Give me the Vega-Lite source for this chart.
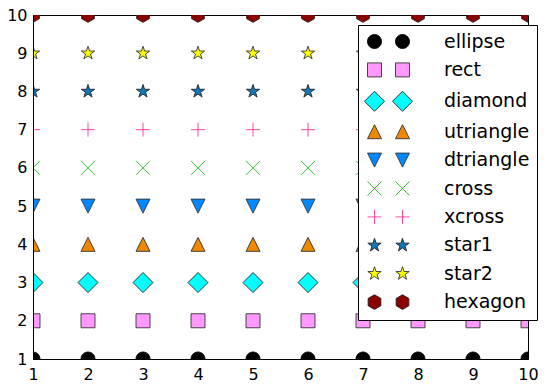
{
  "$schema": "https://vega.github.io/schema/vega-lite/v6.json",
  "width": 495,
  "height": 344,
  "autosize": "none",
  "padding": {"left": 33, "top": 15, "right": 19, "bottom": 30},
  "background": "white",
  "config": {
    "font": "DejaVu Sans",
    "view": {"stroke": "black", "strokeWidth": 1}
  },
  "data": {
    "values": [
      {"x": 1, "y": 1, "marker": "ellipse"}, {"x": 2, "y": 1, "marker": "ellipse"}, {"x": 3, "y": 1, "marker": "ellipse"}, {"x": 4, "y": 1, "marker": "ellipse"}, {"x": 5, "y": 1, "marker": "ellipse"}, {"x": 6, "y": 1, "marker": "ellipse"}, {"x": 7, "y": 1, "marker": "ellipse"}, {"x": 8, "y": 1, "marker": "ellipse"}, {"x": 9, "y": 1, "marker": "ellipse"}, {"x": 10, "y": 1, "marker": "ellipse"},
      {"x": 1, "y": 2, "marker": "rect"}, {"x": 2, "y": 2, "marker": "rect"}, {"x": 3, "y": 2, "marker": "rect"}, {"x": 4, "y": 2, "marker": "rect"}, {"x": 5, "y": 2, "marker": "rect"}, {"x": 6, "y": 2, "marker": "rect"}, {"x": 7, "y": 2, "marker": "rect"}, {"x": 8, "y": 2, "marker": "rect"}, {"x": 9, "y": 2, "marker": "rect"}, {"x": 10, "y": 2, "marker": "rect"},
      {"x": 1, "y": 3, "marker": "diamond"}, {"x": 2, "y": 3, "marker": "diamond"}, {"x": 3, "y": 3, "marker": "diamond"}, {"x": 4, "y": 3, "marker": "diamond"}, {"x": 5, "y": 3, "marker": "diamond"}, {"x": 6, "y": 3, "marker": "diamond"}, {"x": 7, "y": 3, "marker": "diamond"}, {"x": 8, "y": 3, "marker": "diamond"}, {"x": 9, "y": 3, "marker": "diamond"}, {"x": 10, "y": 3, "marker": "diamond"},
      {"x": 1, "y": 4, "marker": "utriangle"}, {"x": 2, "y": 4, "marker": "utriangle"}, {"x": 3, "y": 4, "marker": "utriangle"}, {"x": 4, "y": 4, "marker": "utriangle"}, {"x": 5, "y": 4, "marker": "utriangle"}, {"x": 6, "y": 4, "marker": "utriangle"}, {"x": 7, "y": 4, "marker": "utriangle"}, {"x": 8, "y": 4, "marker": "utriangle"}, {"x": 9, "y": 4, "marker": "utriangle"}, {"x": 10, "y": 4, "marker": "utriangle"},
      {"x": 1, "y": 5, "marker": "dtriangle"}, {"x": 2, "y": 5, "marker": "dtriangle"}, {"x": 3, "y": 5, "marker": "dtriangle"}, {"x": 4, "y": 5, "marker": "dtriangle"}, {"x": 5, "y": 5, "marker": "dtriangle"}, {"x": 6, "y": 5, "marker": "dtriangle"}, {"x": 7, "y": 5, "marker": "dtriangle"}, {"x": 8, "y": 5, "marker": "dtriangle"}, {"x": 9, "y": 5, "marker": "dtriangle"}, {"x": 10, "y": 5, "marker": "dtriangle"},
      {"x": 1, "y": 6, "marker": "cross"}, {"x": 2, "y": 6, "marker": "cross"}, {"x": 3, "y": 6, "marker": "cross"}, {"x": 4, "y": 6, "marker": "cross"}, {"x": 5, "y": 6, "marker": "cross"}, {"x": 6, "y": 6, "marker": "cross"}, {"x": 7, "y": 6, "marker": "cross"}, {"x": 8, "y": 6, "marker": "cross"}, {"x": 9, "y": 6, "marker": "cross"}, {"x": 10, "y": 6, "marker": "cross"},
      {"x": 1, "y": 7, "marker": "xcross"}, {"x": 2, "y": 7, "marker": "xcross"}, {"x": 3, "y": 7, "marker": "xcross"}, {"x": 4, "y": 7, "marker": "xcross"}, {"x": 5, "y": 7, "marker": "xcross"}, {"x": 6, "y": 7, "marker": "xcross"}, {"x": 7, "y": 7, "marker": "xcross"}, {"x": 8, "y": 7, "marker": "xcross"}, {"x": 9, "y": 7, "marker": "xcross"}, {"x": 10, "y": 7, "marker": "xcross"},
      {"x": 1, "y": 8, "marker": "star1"}, {"x": 2, "y": 8, "marker": "star1"}, {"x": 3, "y": 8, "marker": "star1"}, {"x": 4, "y": 8, "marker": "star1"}, {"x": 5, "y": 8, "marker": "star1"}, {"x": 6, "y": 8, "marker": "star1"}, {"x": 7, "y": 8, "marker": "star1"}, {"x": 8, "y": 8, "marker": "star1"}, {"x": 9, "y": 8, "marker": "star1"}, {"x": 10, "y": 8, "marker": "star1"},
      {"x": 1, "y": 9, "marker": "star2"}, {"x": 2, "y": 9, "marker": "star2"}, {"x": 3, "y": 9, "marker": "star2"}, {"x": 4, "y": 9, "marker": "star2"}, {"x": 5, "y": 9, "marker": "star2"}, {"x": 6, "y": 9, "marker": "star2"}, {"x": 7, "y": 9, "marker": "star2"}, {"x": 8, "y": 9, "marker": "star2"}, {"x": 9, "y": 9, "marker": "star2"}, {"x": 10, "y": 9, "marker": "star2"},
      {"x": 1, "y": 10, "marker": "hexagon"}, {"x": 2, "y": 10, "marker": "hexagon"}, {"x": 3, "y": 10, "marker": "hexagon"}, {"x": 4, "y": 10, "marker": "hexagon"}, {"x": 5, "y": 10, "marker": "hexagon"}, {"x": 6, "y": 10, "marker": "hexagon"}, {"x": 7, "y": 10, "marker": "hexagon"}, {"x": 8, "y": 10, "marker": "hexagon"}, {"x": 9, "y": 10, "marker": "hexagon"}, {"x": 10, "y": 10, "marker": "hexagon"}
    ]
  },
  "encoding": {
    "x": {
      "field": "x", "type": "quantitative",
      "scale": {"domain": [1, 10], "nice": false, "zero": false},
      "axis": {"values": [1, 2, 3, 4, 5, 6, 7, 8, 9, 10], "format": "d", "title": null, "grid": false, "ticks": false, "domain": true, "domainColor": "black", "domainWidth": 1, "labelFontSize": 16, "labelColor": "black", "labelPadding": 7, "labelFlush": false, "labelOverlap": false, "labelBound": false, "zindex": 1}
    },
    "y": {
      "field": "y", "type": "quantitative",
      "scale": {"domain": [1, 10], "nice": false, "zero": false},
      "axis": {"values": [1, 2, 3, 4, 5, 6, 7, 8, 9, 10], "format": "d", "title": null, "grid": false, "ticks": false, "domain": true, "domainColor": "black", "domainWidth": 1, "labelFontSize": 16, "labelColor": "black", "labelPadding": 6, "labelFlush": false, "labelOverlap": false, "labelBound": false, "zindex": 1}
    }
  },
  "layer": [
    {
      "mark": {"type": "point", "filled": true, "size": 196, "clip": true, "strokeWidth": 0.9, "opacity": 1},
      "encoding": {
        "shape": {
          "field": "marker", "type": "nominal", "legend": null,
          "scale": {
            "domain": ["ellipse", "rect", "diamond", "utriangle", "dtriangle", "cross", "xcross", "star1", "star2", "hexagon"],
            "range": [
              "M1,0A1,1,0,1,1,-1,0A1,1,0,1,1,1,0Z",
              "M-1,-1H1V1H-1Z",
              "M0,-1.43L1.43,0L0,1.43L-1.43,0Z",
              "M0,-1L1,1L-1,1Z",
              "M0,1L1,-1L-1,-1Z",
              "M-1,-1L1,1M-1,1L1,-1",
              "M-1,0L1,0M0,-1L0,1",
              "M0,-1L0.2245,-0.309L0.9511,-0.309L0.3633,0.118L0.5878,0.809L0,0.382L-0.5878,0.809L-0.3633,0.118L-0.9511,-0.309L-0.2245,-0.309Z",
              "M0,-1L0.2245,-0.309L0.9511,-0.309L0.3633,0.118L0.5878,0.809L0,0.382L-0.5878,0.809L-0.3633,0.118L-0.9511,-0.309L-0.2245,-0.309Z",
              "M0,-1.05L0.91,-0.525L0.91,0.525L0,1.05L-0.91,0.525L-0.91,-0.525Z"
            ]
          }
        },
        "fill": {
          "field": "marker", "type": "nominal", "legend": null,
          "scale": {
            "domain": ["ellipse", "rect", "diamond", "utriangle", "dtriangle", "cross", "xcross", "star1", "star2", "hexagon"],
            "range": ["#000000", "#ff99ff", "#00ffff", "#ee8800", "#0088ff", "transparent", "transparent", "#1177bb", "#ffff00", "#8b0000"]
          }
        },
        "stroke": {
          "field": "marker", "type": "nominal", "legend": null,
          "scale": {
            "domain": ["ellipse", "rect", "diamond", "utriangle", "dtriangle", "cross", "xcross", "star1", "star2", "hexagon"],
            "range": ["#000000", "#333333", "#222222", "#333333", "#333333", "#22bb22", "#ff3399", "#222222", "#333333", "#222222"]
          }
        }
      }
    },
    {
      "mark": {"type": "point", "filled": true, "size": 196, "clip": true, "strokeWidth": 0.9, "opacity": 0},
      "encoding": {
        "shape": {
          "field": "marker", "type": "nominal",
          "scale": {
            "domain": ["ellipse", "rect", "diamond", "utriangle", "dtriangle", "cross", "xcross", "star1", "star2", "hexagon"],
            "range": [
              "M1,0A1,1,0,1,1,-1,0A1,1,0,1,1,1,0ZM5,0A1,1,0,1,1,3,0A1,1,0,1,1,5,0Z",
              "M-1,-1H1V1H-1ZM3,-1H5V1H3Z",
              "M0,-1.43L1.43,0L0,1.43L-1.43,0ZM4,-1.43L5.43,0L4,1.43L2.57,0Z",
              "M0,-1L1,1L-1,1ZM4,-1L5,1L3,1Z",
              "M0,1L1,-1L-1,-1ZM4,1L5,-1L3,-1Z",
              "M-1,-1L1,1M-1,1L1,-1M3,-1L5,1M3,1L5,-1",
              "M-1,0L1,0M0,-1L0,1M3,0L5,0M4,-1L4,1",
              "M0,-1L0.2245,-0.309L0.9511,-0.309L0.3633,0.118L0.5878,0.809L0,0.382L-0.5878,0.809L-0.3633,0.118L-0.9511,-0.309L-0.2245,-0.309ZM4,-1L4.2245,-0.309L4.9511,-0.309L4.3633,0.118L4.5878,0.809L4,0.382L3.4122,0.809L3.6367,0.118L3.0489,-0.309L3.7755,-0.309Z",
              "M0,-1L0.2245,-0.309L0.9511,-0.309L0.3633,0.118L0.5878,0.809L0,0.382L-0.5878,0.809L-0.3633,0.118L-0.9511,-0.309L-0.2245,-0.309ZM4,-1L4.2245,-0.309L4.9511,-0.309L4.3633,0.118L4.5878,0.809L4,0.382L3.4122,0.809L3.6367,0.118L3.0489,-0.309L3.7755,-0.309Z",
              "M0,-1.05L0.91,-0.525L0.91,0.525L0,1.05L-0.91,0.525L-0.91,-0.525ZM4,-1.05L4.91,-0.525L4.91,0.525L4,1.05L3.09,0.525L3.09,-0.525Z"
            ]
          },
          "legend": {
            "orient": "none", "legendX": 325, "legendY": 10, "title": null,
            "labelFontSize": 19, "labelColor": "black", "labelFont": "DejaVu Sans",
            "symbolSize": 196, "symbolStrokeWidth": 0.9, "symbolOpacity": 1,
            "padding": 7, "rowPadding": 8.4, "labelOffset": 60,
            "strokeColor": "black", "fillColor": "white", "cornerRadius": 0, "zindex": 2
          }
        },
        "fill": {
          "field": "marker", "type": "nominal",
          "scale": {
            "domain": ["ellipse", "rect", "diamond", "utriangle", "dtriangle", "cross", "xcross", "star1", "star2", "hexagon"],
            "range": ["#000000", "#ff99ff", "#00ffff", "#ee8800", "#0088ff", "transparent", "transparent", "#1177bb", "#ffff00", "#8b0000"]
          }
        },
        "stroke": {
          "field": "marker", "type": "nominal",
          "scale": {
            "domain": ["ellipse", "rect", "diamond", "utriangle", "dtriangle", "cross", "xcross", "star1", "star2", "hexagon"],
            "range": ["#000000", "#333333", "#222222", "#333333", "#333333", "#22bb22", "#ff3399", "#222222", "#333333", "#222222"]
          }
        }
      }
    }
  ],
  "resolve": {"scale": {"shape": "independent", "fill": "independent", "stroke": "independent"}}
}
